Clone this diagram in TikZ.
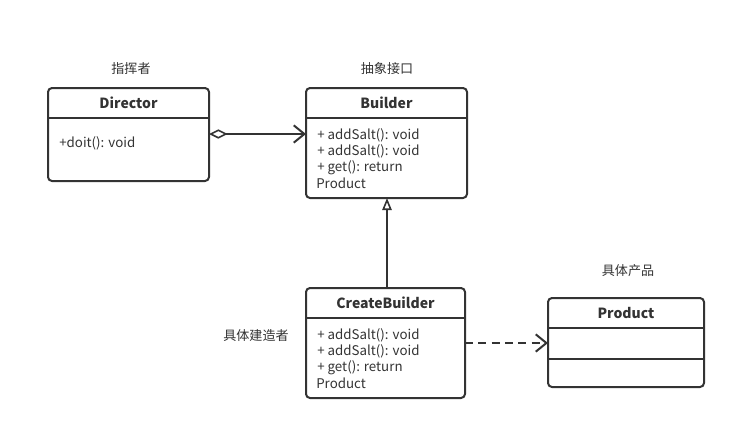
\documentclass[tikz,border=0pt]{standalone}
\usepackage{fontspec}
\setmainfont{Noto Sans CJK SC}
\usetikzlibrary{arrows.meta}
\definecolor{ink}{HTML}{333333}
\begin{document}
\begin{tikzpicture}[x=0.75pt,y=-0.75pt,
  box/.style={draw=ink,line width=1.5pt,rounded corners=3pt},
  sep/.style={draw=ink,line width=1.5pt},
  title/.style={font=\fontsize{10.5}{12}\selectfont\bfseries,text=ink,anchor=center},
  member/.style={font=\fontsize{10}{12}\selectfont,text=ink,anchor=west,inner sep=0pt},
  note/.style={font=\fontsize{9.8}{12}\selectfont,text=ink,anchor=center},
  conn/.style={draw=ink,line width=1.5pt}]
\useasboundingbox (0,0) rectangle (739,430);
% Director
\draw[box] (48,88) rectangle (209,181);
\draw[sep] (48,118) -- (209,118);
\node[title] (dirT) at (128.5,103) {Director};
\node[member] (dirM) at (59,143.5) {+doit(): void};
\coordinate (dirR) at (209,134);
% Builder
\draw[box] (306,88) rectangle (467,198);
\draw[sep] (306,118) -- (467,118);
\node[title] (bT) at (386.5,103) {Builder};
\node[member] (b1) at (317,135.5) {+ addSalt(): void};
\node[member] (b2) at (317,151.5) {+ addSalt(): void};
\node[member] (b3) at (317,167.5) {+ get(): return};
\node[member] (b4) at (316,183.5) {Product};
\coordinate (bL) at (306,134);
\coordinate (bB) at (387,198);
% CreateBuilder
\draw[box] (306,288) rectangle (465,398);
\draw[sep] (306,318) -- (465,318);
\node[title] (cT) at (385.5,303) {CreateBuilder};
\node[member] (c1) at (317,335.5) {+ addSalt(): void};
\node[member] (c2) at (317,351.5) {+ addSalt(): void};
\node[member] (c3) at (317,367.5) {+ get(): return};
\node[member] (c4) at (316,383.5) {Product};
\coordinate (cTop) at (387,288);
\coordinate (cR) at (465,343);
% Product
\draw[box] (548,298) rectangle (704,387);
\draw[sep] (548,328) -- (704,328);
\draw[sep] (548,359) -- (704,359);
\node[title] (pT) at (626,313) {Product};
\coordinate (pL) at (548,343);
% labels
\node[note] (l1) at (131,69) {指挥者};
\node[note] (l2) at (387,69) {抽象接口};
\node[note] (l3) at (256,336) {具体建造者};
\node[note] (l4) at (628,271) {具体产品};
% connectors
\draw[conn,{Diamond[open,length=14pt,width=7pt,line width=1.2pt]}-{Straight Barb[length=8pt,width=13pt,line width=1.5pt]}] (dirR) -- (bL);
\draw[conn,-{Triangle[open,length=9pt,width=7pt,line width=1.2pt]}] (cTop) -- (bB);
\draw[conn,dash pattern=on 6pt off 4pt,-{Straight Barb[length=8pt,width=13pt,line width=1.5pt]}] (cR) -- (pL);
\end{tikzpicture}
\end{document}
